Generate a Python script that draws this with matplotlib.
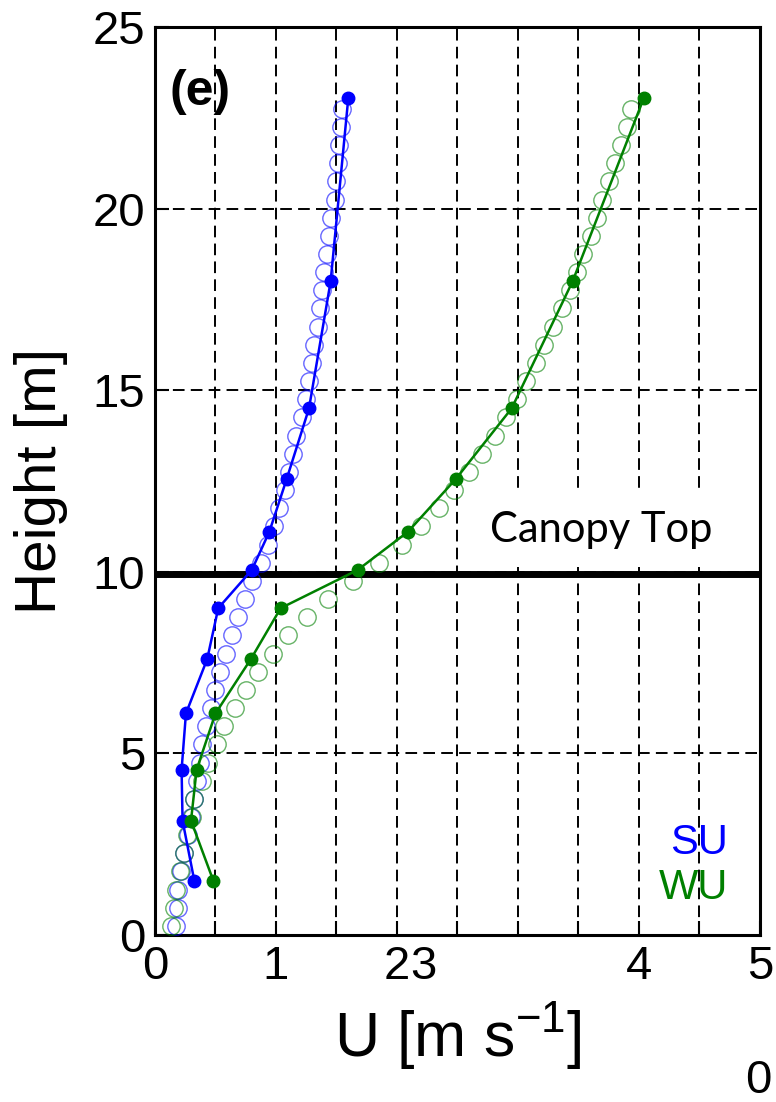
import numpy as np
import matplotlib
matplotlib.use('Agg')
import matplotlib.pyplot as plt
from matplotlib.patches import Rectangle

plt.rcParams['font.family'] = ['Liberation Sans', 'DejaVu Sans']
plt.rcParams['mathtext.fontset'] = 'custom'
plt.rcParams['mathtext.rm'] = 'Liberation Sans'
plt.rcParams['mathtext.it'] = 'Liberation Sans:italic'

# ---------------- data ----------------
z_obs = [1.5, 3.15, 4.55, 6.1, 7.6, 9.0, 10.05, 11.1, 12.55, 14.5, 18.0, 23.05]
su_obs = [0.325, 0.228, 0.22, 0.256, 0.432, 0.523, 0.80, 0.945, 1.088, 1.273, 1.452, 1.598]
wu_obs = [0.482, 0.298, 0.344, 0.50, 0.793, 1.039, 1.675, 2.09, 2.485, 2.948, 3.452, 4.041]

z_model = [0.25, 0.75, 1.25, 1.75, 2.25, 2.75, 3.25, 3.75, 4.25, 4.75,
           5.25, 5.75, 6.25, 6.75, 7.25, 7.75, 8.25, 8.75, 9.25, 9.75,
           10.25, 10.75, 11.25, 11.75, 12.25, 12.75, 13.25, 13.75, 14.25, 14.75,
           15.25, 15.75, 16.25, 16.75, 17.25, 17.75, 18.25, 18.75, 19.25, 19.75,
           20.25, 20.75, 21.25, 21.75, 22.25, 22.75]
su_model = [0.171, 0.187, 0.193, 0.215, 0.242, 0.27, 0.298, 0.325, 0.344, 0.372,
            0.386, 0.419, 0.463, 0.50, 0.537, 0.584, 0.634, 0.683, 0.744, 0.804,
            0.873, 0.936, 0.986, 1.028, 1.075, 1.110, 1.138, 1.165, 1.212, 1.248,
            1.276, 1.295, 1.314, 1.35, 1.36, 1.38, 1.397, 1.424, 1.441, 1.452,
            1.488, 1.496, 1.51, 1.523, 1.535, 1.543]
wu_model = [0.132, 0.16, 0.171, 0.207, 0.242, 0.262, 0.309, 0.325, 0.386, 0.44,
            0.51, 0.573, 0.661, 0.75, 0.849, 0.972, 1.10, 1.259, 1.432, 1.634,
            1.851, 2.044, 2.198, 2.347, 2.475, 2.598, 2.700, 2.810, 2.901, 2.989,
            3.066, 3.148, 3.217, 3.287, 3.361, 3.43, 3.485, 3.540, 3.60, 3.655,
            3.697, 3.755, 3.801, 3.848, 3.898, 3.931]

canopy_top = 9.95
xtick_label_pos = [0, 1, 2, 2.22, 4, 5]
xtick_labels = ['0', '1', '2', '3', '4', '5']
yticks = [0, 5, 10, 15, 20, 25]
ytick_labels = ['0', '5', '10', '15', '20', '25']

BLUE = '#0000FF'
GREEN = '#008000'

# ---------------- figure ----------------
fig = plt.figure(figsize=(7.76, 11.02), dpi=100)
ax = fig.add_axes([0.1997, 0.1515, 0.7796, 0.824])

ax.set_xlim(0, 5)
ax.set_ylim(0, 25)

ax.set_axisbelow(True)
ax.xaxis.remove_overlapping_locs = False
ax.set_xticks(np.arange(0, 5.01, 0.5))
ax.set_xticklabels([])
ax.set_xticks(xtick_label_pos, minor=True)
ax.set_xticklabels(xtick_labels, minor=True)
ax.set_yticks(yticks)
ax.set_yticklabels(ytick_labels)
ax.grid(True, which='major', color='black', linestyle=(0, (6, 3.2)), linewidth=1.4)

ax.tick_params(axis='both', which='major', direction='in', length=10, width=1.5,
               labelsize=34, top=False, right=False)
ax.tick_params(axis='y', which='major', pad=7)
ax.tick_params(axis='x', which='minor', length=0, labelsize=34, pad=7)
for s in ax.spines.values():
    s.set_linewidth(2.2)

# white box behind the canopy label
ax.add_patch(Rectangle((2.6, 10.12), 2.4, 2.14, facecolor='white',
                       edgecolor='none', zorder=1))

ax.axhline(canopy_top, color='black', linewidth=5, zorder=2.5)

# model (open circles)
ax.plot(su_model, z_model, 'o', mfc='none', mec=BLUE, ms=12.5, mew=1.0,
        alpha=0.6, zorder=3)
ax.plot(wu_model, z_model, 'o', mfc='none', mec=GREEN, ms=12.5, mew=1.0,
        alpha=0.6, zorder=3)

# observations (filled, with lines)
ax.plot(su_obs, z_obs, '-o', color=BLUE, lw=1.8, ms=9, zorder=4)
ax.plot(wu_obs, z_obs, '-o', color=GREEN, lw=1.8, ms=9, zorder=4)

ax.text(0.37, 23.2, '(e)', fontsize=36, fontweight='bold', ha='center',
        va='center', zorder=5)
ax.text(3.69, 11.16, 'Canopy Top', family=['Lato', 'DejaVu Sans'],
        fontsize=30, ha='center', va='center', zorder=5)
ax.text(4.735, 2.53, 'SU', color=BLUE, fontsize=30, ha='right', va='center', zorder=5)
ax.text(4.735, 1.29, 'WU', color=GREEN, fontsize=30, ha='right', va='center', zorder=5)

ax.set_xlabel(r'U [m s$^{\mathrm{-1}}$]', fontsize=45, labelpad=8)
ax.set_ylabel('Height [m]', fontsize=42, labelpad=18)

fig.text(758 / 776, 1 - 1081 / 1102, '0', fontsize=34, ha='center', va='center')

fig.savefig('out.png', dpi=100)
